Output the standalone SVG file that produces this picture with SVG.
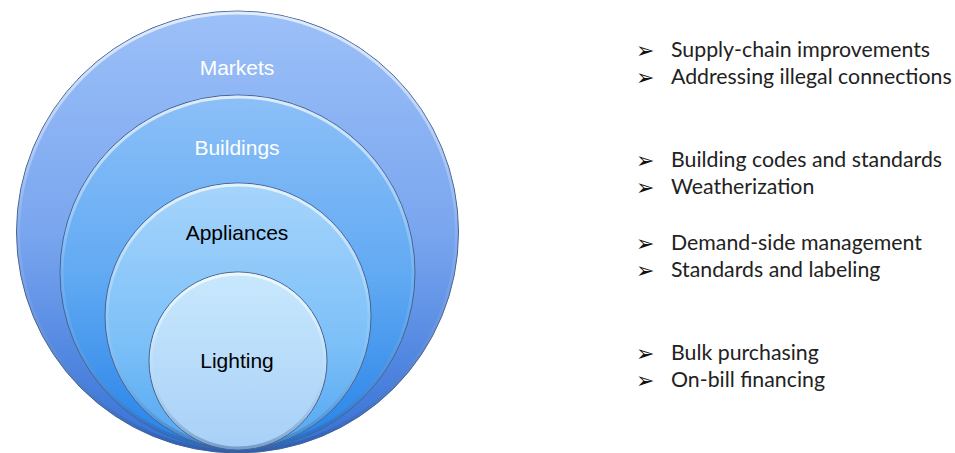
<svg xmlns="http://www.w3.org/2000/svg" width="955" height="453" viewBox="0 0 955 453">
  <defs>
    <linearGradient id="gMarkets" x1="0" y1="0" x2="0" y2="1">
      <stop offset="0" stop-color="#9cc0f8"/>
      <stop offset="0.5" stop-color="#7aa6ef"/>
      <stop offset="1" stop-color="#3470d6"/>
    </linearGradient>
    <linearGradient id="gBuildings" x1="0" y1="0" x2="0" y2="1">
      <stop offset="0" stop-color="#8cc0f8"/>
      <stop offset="0.5" stop-color="#62aaf3"/>
      <stop offset="1" stop-color="#2682e8"/>
    </linearGradient>
    <linearGradient id="gAppliances" x1="0" y1="0" x2="0" y2="1">
      <stop offset="0" stop-color="#a6d4fb"/>
      <stop offset="0.6" stop-color="#7cc0f8"/>
      <stop offset="1" stop-color="#52a6f1"/>
    </linearGradient>
    <linearGradient id="gLighting" x1="0" y1="0" x2="0" y2="1">
      <stop offset="0" stop-color="#c8e8fd"/>
      <stop offset="1" stop-color="#a8d0f7"/>
    </linearGradient>
    <linearGradient id="gBevel" x1="0" y1="0" x2="0" y2="1">
      <stop offset="0" stop-color="#ffffff" stop-opacity="0.7"/>
      <stop offset="0.5" stop-color="#ffffff" stop-opacity="0.1"/>
      <stop offset="1" stop-color="#1a3f7a" stop-opacity="0.35"/>
    </linearGradient>
  </defs>
  <style>
    .ring { stroke: #46638f; stroke-width: 1; }
    .bevel { fill: none; stroke: url(#gBevel); stroke-width: 3; }
    .lbl { font-family: "Liberation Sans", Arial, sans-serif; font-size: 21px; text-anchor: middle; }
    .light { fill: #ffffff; }
    .dark { fill: #000000; }
    .item { font-family: Lato, "Open Sans", sans-serif; font-size: 21.3px; fill: #222222; }
    .arrow { font-family: "DejaVu Sans", sans-serif; font-size: 22px; fill: #111111; }
  </style>

  <!-- nested circles -->
  <g id="markets">
    <circle class="ring" cx="237.5" cy="232" r="221" fill="url(#gMarkets)"/>
    <circle class="bevel" cx="237.5" cy="232" r="219"/>
    <text class="lbl light" x="237" y="75">Markets</text>
  </g>
  <g id="buildings">
    <circle class="ring" cx="237.5" cy="272.5" r="177.5" fill="url(#gBuildings)"/>
    <circle class="bevel" cx="237.5" cy="272.5" r="175.5"/>
    <text class="lbl light" x="237" y="155">Buildings</text>
  </g>
  <g id="appliances">
    <circle class="ring" cx="238" cy="316" r="133" fill="url(#gAppliances)"/>
    <circle class="bevel" cx="238" cy="316" r="131"/>
    <text class="lbl dark" x="237" y="240">Appliances</text>
  </g>
  <g id="lighting">
    <circle class="ring" cx="238" cy="361" r="89" fill="url(#gLighting)"/>
    <circle class="bevel" cx="238" cy="361" r="87"/>
    <text class="lbl dark" x="237" y="368">Lighting</text>
  </g>

  <!-- measure lists -->
  <g id="list-markets">
    <text class="arrow" x="636" y="58">➢</text>
    <text class="item" x="671" y="57">Supply-chain improvements</text>
    <text class="arrow" x="636" y="85">➢</text>
    <text class="item" x="671" y="84">Addressing illegal connections</text>
  </g>
  <g id="list-buildings">
    <text class="arrow" x="636" y="168">➢</text>
    <text class="item" x="671" y="167">Building codes and standards</text>
    <text class="arrow" x="636" y="195">➢</text>
    <text class="item" x="671" y="194">Weatherization</text>
  </g>
  <g id="list-appliances">
    <text class="arrow" x="636" y="251">➢</text>
    <text class="item" x="671" y="250">Demand-side management</text>
    <text class="arrow" x="636" y="278">➢</text>
    <text class="item" x="671" y="277">Standards and labeling</text>
  </g>
  <g id="list-lighting">
    <text class="arrow" x="636" y="361">➢</text>
    <text class="item" x="671" y="360">Bulk purchasing</text>
    <text class="arrow" x="636" y="388">➢</text>
    <text class="item" x="671" y="387">On-bill financing</text>
  </g>
</svg>
